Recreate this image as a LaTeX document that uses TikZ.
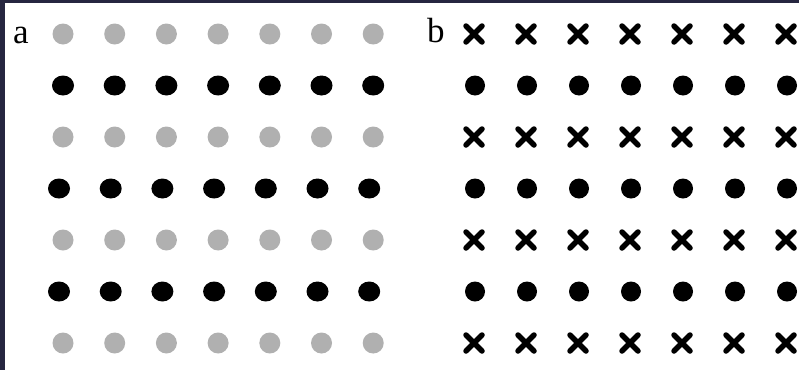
\documentclass[tikz,border=0pt]{standalone}
\usepackage{fontspec}
\setmainfont{Liberation Serif}
\definecolor{marco}{RGB}{38,38,64}
\definecolor{grispunto}{RGB}{176,176,176}

\begin{document}
\begin{tikzpicture}[x=1pt, y=-1pt,
  gris/.style={fill=grispunto},
  negro/.style={fill=black},
  cruz/.style={draw=black, line width=5.5pt, line cap=round},
  etq/.style={font=\fontsize{35}{40}\selectfont, anchor=base west, inner sep=0pt}
]
\useasboundingbox (0,0) rectangle (799,370);
\fill[white] (0,0) rectangle (799,370);
\fill[marco] (0,0) rectangle (799,3);
\fill[marco] (0,0) rectangle (5,370);
% PANEL A
\begin{scope}
  \node[etq] (etqa) at (13,43) {a};
  \foreach \yy in {34,137,240,343}
    \foreach \col in {0,...,6}
      \fill[gris] ({63+51.7*\col},\yy) circle (10.5);
  \foreach \yy/\xx in {85.5/63,188.5/59,291.5/59}
    \foreach \col in {0,...,6}
      \fill[negro] ({\xx+51.7*\col},\yy) ellipse (11 and 10);
\end{scope}
% PANEL B
\begin{scope}
  \node[etq] (etqb) at (427,42) {b};
  \foreach \yy in {34,137,240,343}
    \foreach \col in {0,...,6}
      \draw[cruz] ({474+52*\col-8},{\yy-8}) -- ({474+52*\col+8},{\yy+8})
                  ({474+52*\col-8},{\yy+8}) -- ({474+52*\col+8},{\yy-8});
  \foreach \yy in {85.5,188.5,291.5}
    \foreach \col in {0,...,6}
      \fill[negro] ({475+52*\col},\yy) circle (10);
\end{scope}
\end{tikzpicture}
\end{document}
